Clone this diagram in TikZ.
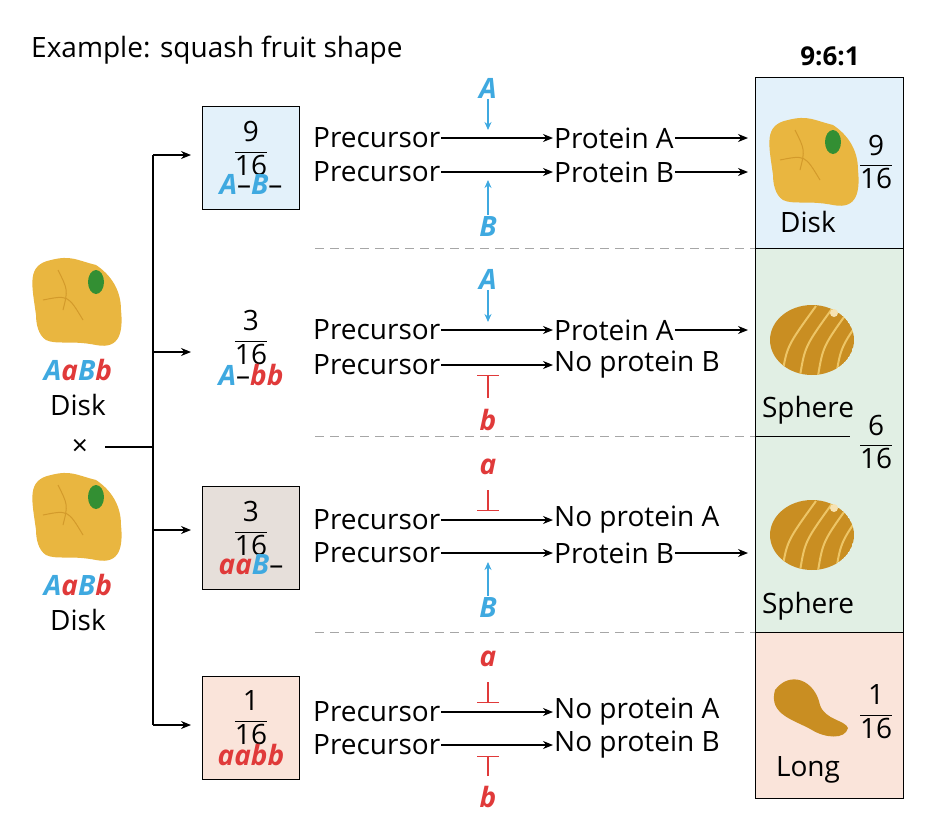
\documentclass[tikz,border=0pt]{standalone}
\usepackage{fontspec}
\setmainfont{Open Sans}
\usetikzlibrary{arrows.meta,positioning}
\definecolor{alA}{HTML}{3FA9E0}
\definecolor{ala}{HTML}{E03A3A}
\definecolor{diskbg}{HTML}{E3F1FA}
\definecolor{sphbg}{HTML}{E1EFE4}
\definecolor{longbg}{HTML}{FAE4DA}
\definecolor{aabg}{HTML}{E6DFDA}
\definecolor{gold}{HTML}{E9B640}
\definecolor{goldd}{HTML}{C98E22}
\newcommand\fr[2]{$\displaystyle\frac{\mbox{#1}}{\mbox{#2}}$}
\newcommand\alBigA{\textcolor{alA}{\textbf{\textit{A}}}}
\newcommand\alBigB{\textcolor{alA}{\textbf{\textit{B}}}}
\newcommand\alSmA{\textcolor{ala}{\textbf{\textit{a}}}}
\newcommand\alSmB{\textcolor{ala}{\textbf{\textit{b}}}}
\newcommand\disksq[1]{%
  \fill[gold] #1 ++(-42,15) .. controls +(-4,-30) and +(-25,5) .. ++(15,-55)
    .. controls +(20,-5) and +(-20,-5) .. ++(45,5) .. controls +(15,10) and +(0,-20) .. ++(25,45)
    .. controls +(2,20) and +(25,5) .. ++(-25,35) .. controls +(-25,-5) and +(10,5) .. ++(-50,-5)
    .. controls +(-8,-5) and +(0,8) .. cycle;
  \draw[goldd!70!gold, line width=1pt] #1 ++(-20,-30) .. controls +(10,20) .. ++(5,40);
  \draw[goldd!70!gold, line width=1pt] #1 ++(-35,0) .. controls +(25,-5) .. ++(40,20);
  \fill[green!45!black!80] #1 ++(18,-18) ellipse (8 and 12);}
\newcommand\sphsq[1]{%
  \begin{scope}
  \clip #1 ellipse (42 and 35);
  \fill[goldd] #1 ellipse (42 and 35);
  \foreach \d in {-30,-12,6,24}{\draw[gold!80!white,line width=2pt] #1 ++(\d,36) .. controls +(5,-30) .. ++(34,-70);}
  \end{scope}
  \fill[gold!40!white] #1 ++(22,-27) circle (4);}
\begin{document}
\begin{tikzpicture}[x=1pt,y=-1pt,
    every node/.style={font=\fontsize{28}{32}\selectfont, inner sep=1pt},
    arr/.style={-{Stealth[length=10pt,width=8pt]}, line width=1.2pt},
    gbox/.style={draw, line width=0.9pt, minimum width=97pt, minimum height=103pt, align=center},
    sep/.style={gray!70, dashed, dash pattern=on 9pt off 6pt, line width=1pt},
    prec/.style={anchor=west},
    prod/.style={anchor=west}]
\useasboundingbox (0,0) rectangle (932,820);
% phenotype panel
\fill[diskbg] (755,77) rectangle (903,248);
\fill[sphbg] (755,248) rectangle (903,632);
\fill[longbg] (755,632) rectangle (903,798);
\draw[line width=1pt] (755,77) rectangle (903,798);
\draw[line width=1pt] (755,248) -- (903,248) (755,632) -- (903,632);
\draw[line width=1pt] (755,436) -- (850,436);
\foreach \y in {248,436,632}{\draw[sep] (315,\y) -- (755,\y);}
\node[anchor=west] (title) at (30,50) {Example: squash fruit shape};
\node[font=\fontsize{26}{30}\selectfont\bfseries] (ratio) at (830,56) {9:6:1};
% parents
\disksq{(78,300)}
\disksq{(78,515)}
\node (p1) at (78,370) {\alBigA\alSmA\alBigB\alSmB};
\node (p1n) at (78,405) {Disk};
\node (cross) at (80,447) {×};
\node (p2) at (78,585) {\alBigA\alSmA\alBigB\alSmB};
\node (p2n) at (78,620) {Disk};
\coordinate (cx) at (105,447);
\coordinate (ctop) at (153,155);
\coordinate (cbot) at (153,725);
\draw[line width=1.2pt] (cx) -- (153,447) (ctop) -- (cbot);
% genotype classes
\node[gbox, fill=diskbg] (g1) at (251,158) {\fr{9}{16}\\[-2pt]\alBigA–\alBigB–};
\node[gbox, draw=none] (g2) at (251,348) {\fr{3}{16}\\[-2pt]\alBigA–\alSmB\alSmB};
\node[gbox, fill=aabg] (g3) at (251,538) {\fr{3}{16}\\[-2pt]\alSmA\alSmA\alBigB–};
\node[gbox, fill=longbg] (g4) at (251,728) {\fr{1}{16}\\[-2pt]\alSmA\alSmA\alSmB\alSmB};
\foreach \y in {155,352,530,725}{\draw[arr] (153,\y) -- (191,\y);}
% pathways
\foreach \r/\ya/\yb/\ta/\tb in {1/138/172/Protein A/Protein B,2/330/365/Protein A/No protein B,3/520/553/No protein A/Protein B,4/712/745/No protein A/No protein B}{
  \node[prec] (pa\r) at (312,\ya) {Precursor};
  \node[prec] (pb\r) at (312,\yb) {Precursor};
  \node[prod] (qa\r) at (553,\ya) {\ta};
  \node[prod] (qb\r) at (553,\yb) {\tb};
  \draw[arr] (pa\r) -- (qa\r);
  \draw[arr] (pb\r) -- (qb\r);
}
\draw[arr] (qa1) -- (748,138);
\draw[arr] (qb1) -- (748,172);
\draw[arr] (qa2) -- (748,330);
\draw[arr] (qb3) -- (748,553);
% modifiers
\node (m1) at (488,88) {\alBigA};
\node (m2) at (488,226) {\alBigB};
\node (m3) at (488,279) {\alBigA};
\node (m4) at (488,420) {\alSmB};
\node (m5) at (488,467) {\alSmA};
\node (m6) at (488,607) {\alBigB};
\node (m7) at (488,659) {\alSmA};
\node (m8) at (488,797) {\alSmB};
\coordinate (t1) at (488,130);
\coordinate (t2) at (488,180);
\coordinate (t3) at (488,322);
\coordinate (t4) at (488,375);
\coordinate (t5) at (488,511);
\coordinate (t6) at (488,562);
\coordinate (t7) at (488,703);
\coordinate (t8) at (488,756);
\tikzset{act/.style={alA, -{Stealth[length=8pt,width=7pt]}, line width=1.3pt},
         inh/.style={ala, -{Bar[width=22pt]}, line width=1.3pt}}
\draw[act] (m1) -- (t1);
\draw[act] (m2) -- (t2);
\draw[act] (m3) -- (t3);
\draw[inh] (488,398) -- (t4);
\draw[inh] (488,490) -- (t5);
\draw[act] (m6) -- (t6);
\draw[inh] (488,682) -- (t7);
\draw[inh] (488,776) -- (t8);
% offspring
\disksq{(815,160)}
\node (f1) at (876,162) {\fr{9}{16}};
\node (n1) at (808,222) {Disk};
\sphsq{(812,340)}
\node (n2) at (808,410) {Sphere};
\node (f2) at (876,442) {\fr{6}{16}};
\sphsq{(812,535)}
\node (n3) at (808,606) {Sphere};
\fill[goldd] (775,690) .. controls (790,670) and (815,680) .. (820,705)
  .. controls (825,720) and (845,720) .. (848,728) .. controls (845,740) and (825,738) .. (812,730)
  .. controls (795,720) and (768,715) .. cycle;
\node (f3) at (876,712) {\fr{1}{16}};
\node (n4) at (808,770) {Long};
\end{tikzpicture}
\end{document}
